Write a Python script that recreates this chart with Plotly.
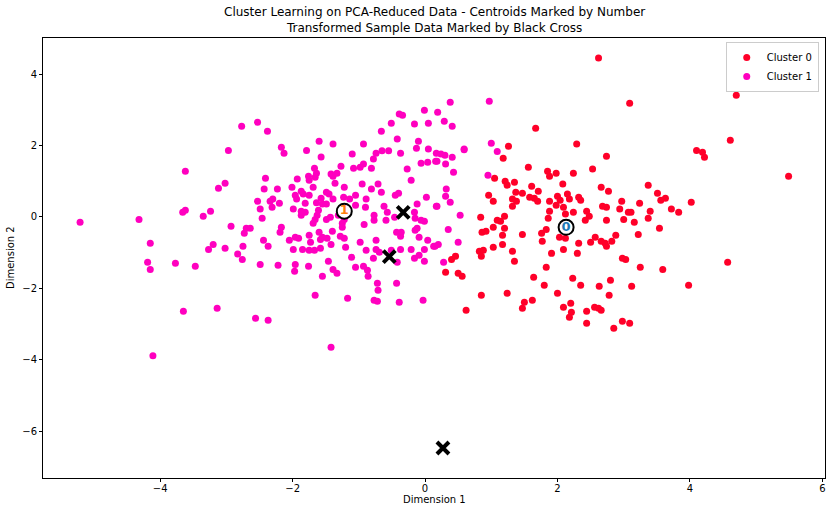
import plotly.graph_objects as go

# ---------------- data ----------------
c0_x = [2.62, 3.09, 1.67, 1.26, 2.29, 4.70, 4.61,
        1.18, 2.74, 1.56, 1.85, 1.98, 1.88, 2.24, 2.53, 1.05, 1.21, 1.35, 1.24, 2.08, 1.61,
        2.66, 2.77, 1.71, 1.37, 1.47, 0.96, 1.58, 1.65, 1.70, 1.32, 1.38, 1.03, 1.32, 1.88,
        2.00, 2.04, 2.15, 2.18, 2.32, 2.35, 1.98, 2.09, 2.24, 1.88, 1.86, 2.12, 2.44, 2.48,
        2.42, 2.68, 2.74, 2.97, 2.94, 3.07, 3.00, 3.16, 2.74, 0.84, 1.20, 1.09, 1.14, 1.03,
        1.20, 0.86, 0.92, 1.47, 1.76, 1.83, 1.17, 1.77, 2.03, 2.12, 2.32, 2.50, 2.57, 2.66,
        2.72, 2.82, 2.88, 2.74, 1.03, 1.17, 1.32, 0.82, 0.88, 1.91, 2.09, 2.30,
        4.10, 4.19, 4.22, 5.49, 3.37, 3.51, 3.56, 3.63, 3.24, 4.02, 3.40, 3.72, 3.83, 3.11,
        3.37, 3.54, 3.22,
        0.40, 0.46, 0.31, 0.50, 0.56, 0.85, 1.35, 2.98, 3.03, 1.83, 1.64, 2.23, 1.80, 2.35,
        2.63, 2.80, 3.12, 2.78, 0.85, 1.24, 2.00, 1.50, 1.62, 1.47, 0.62, 2.09, 2.20, 2.21,
        2.18, 2.44, 2.56, 2.62, 2.66, 2.44, 2.85, 2.98, 3.09,
        3.25, 3.59, 4.57, 3.98]
c0_y = [4.45, 3.18, 2.48, 1.98, 2.04, 3.41, 2.15,
        1.64, 1.70, 1.39, 1.28, 1.22, 1.14, 1.22, 1.34, 1.08, 1.00, 0.97, 0.89, 0.92, 0.86,
        0.83, 0.72, 0.72, 0.69, 0.66, 0.61, 0.55, 0.52, 0.44, 0.50, 0.44, 0.44, 0.30, 0.44,
        0.58, 0.47, 0.64, 0.50, 0.55, 0.47, 0.33, 0.27, 0.13, 0.16, -0.04, 0.08, 0.16, 0.02,
        -0.09, 0.30, 0.27, 0.44, 0.22, 0.13, -0.07, -0.15, -0.09, -0.01, 0.02, -0.09, -0.12, -0.29,
        -0.32, -0.43, -0.40, -0.49, -0.46, -0.35, -0.51, -0.68, -0.57, -0.60, -0.74, -0.71, -0.57, -0.68,
        -0.74, -0.68, -0.51, -0.82, -0.85, -0.77, -0.96, -0.96, -0.93, -1.02, -0.91, -1.02,
        1.86, 1.81, 1.67, 1.14, 0.89, 0.66, 0.47, 0.52, 0.38, 0.41, 0.16, 0.22, 0.13, 0.13,
        -0.04, -0.32, -0.49,
        -1.19, -1.10, -1.55, -1.58, -1.66, -1.10, -1.24, -1.16, -1.19, -1.41, -1.69, -1.72, -1.91, -1.91,
        -1.94, -1.77, -1.94, -2.19, -2.19, -2.14, -2.14, -2.39, -2.33, -2.56, -2.61, -2.53, -2.42, -2.67,
        -2.81, -2.64, -2.53, -2.56, -2.61, -2.98, -3.12, -2.92, -2.98,
        -1.41, -1.47, -1.27, -1.91]

c1_x = [-2.77, -2.97, -2.53, -2.38, -2.17, -1.60, -1.39, -0.93, -0.66, -0.51, -0.39, -0.34, -0.42,
        -0.16, -0.01, 0.05, -0.10, -0.13, 0.05,
        0.19, 0.38, 0.97, 0.29, 0.41, 0.59, 1.00,
        -3.62, -3.02, -3.12, -3.66, -3.62, -3.24, -3.35, -4.32, -5.21, -2.93, -4.15, -3.20, -3.27, -3.02, -2.83,
        -2.13, -1.79, -1.57, -1.10, -0.74, -0.65, -0.55, -0.37, 0.17, 0.04, -0.06, -0.78, -0.93, -0.98,
        -1.08, -0.81, -1.27, -1.33, -1.42, -1.39, -1.67, -1.64, -1.66, -1.76, -1.75, -1.93, -2.41, -2.23,
        -2.43, -2.01, -1.87, -1.75, -1.84, -1.69, -1.36, -1.22, -0.95, -0.71, -0.66, -0.81, -1.05, -1.14,
        -1.23, -1.49, -1.45, -1.57, -1.39, -1.55, -1.64, -1.49, -1.81, -1.96, -1.94, -2.30, -2.34, -2.20,
        -2.53, -2.49, -2.31, -1.99, -1.87, -1.81, -1.87, -1.61, -1.63, -1.66, -1.69, -1.49, -1.43, -1.31,
        -1.22, -1.25, -1.25, -0.90, -0.89, -1.05, -0.77, -0.77, -0.92, -0.62, -0.57, -0.46, -0.45, -0.40,
        -0.21, -0.27, 0.16, -0.12, 0.02, 0.17, -0.16, -0.15, -0.06, -0.01, -0.59, -2.46, -2.17, -2.19,
        -2.70, -2.64, -2.73, -2.44, -2.37, -2.75, -2.05, -1.96, -1.91, -1.75, -1.73, -1.60, -1.58, -1.55,
        -1.48, -1.40, -1.28, -1.22, -1.42, -1.20, -1.58, -1.85, -1.99, -1.75, -1.67, -0.98, -0.89, -0.74,
        -0.74, -0.43, -0.37, -0.36, -0.15, -0.12, -0.09, 0.04, -0.21, -0.51, -0.37, -0.01, 0.13, 0.20,
        0.24, 0.30, 0.41, 0.18, 0.31, 0.59, 1.09, 0.43, 0.95, 0.32, 0.31, 0.38, 0.18, 0.53, 0.35, 0.50, 0.15,
        -2.76, -4.19, -4.15, -3.77, -3.47, -3.65, -3.14, -4.11,
        -2.49, -2.22, -1.96, -1.97, -1.76, -1.46, -1.39, -1.33, -1.55, -1.11, -1.05, -0.93, -0.87, -0.86,
        -0.78, -0.69, -0.09, -0.16, -0.01, -0.42, -0.72, -0.71, -0.43, -1.66, -1.17, -0.77, -0.72, -0.39,
        -0.03, -2.56, -2.37, -1.42,
        0.28]
c1_y = [2.54, 1.86, 2.65, 2.40, 1.95, 2.12, 2.04, 2.04, 2.40, 2.62, 2.88, 2.85, 2.18,
        2.60, 2.99, 2.62, 2.12, 1.92, 1.90,
        2.93, 3.21, 3.24, 2.68, 2.54, 1.90, 2.06,
        1.28, 0.94, 0.80, 0.13, 0.19, 0.16, 0.02, -0.07, -0.15, -0.26, -0.74, -0.77, -0.91, -0.88, -1.04,
        1.78, 1.86, 1.68, 1.76, 1.78, 1.85, 1.85, 1.78, 1.78, 1.53, 1.50, 1.62, 1.48, 1.39,
        1.36, 1.36, 1.42, 1.22, 1.20, 1.14, 1.36, 1.22, 1.11, 1.14, 1.03, 1.06, 1.08, 0.78,
        0.78, 0.83, 0.72, 0.61, 0.64, 0.83, 0.94, 0.83, 0.92, 0.92, 0.69, 0.78, 0.61, 0.50,
        0.55, 0.69, 0.64, 0.52, 0.50, 0.36, 0.40, 0.36, 0.38, 0.61, 0.50, 0.50, 0.44, 0.38,
        0.44, 0.22, 0.27, 0.22, 0.16, 0.13, 0.05, 0.19, 0.05, -0.07, -0.18, -0.07, -0.01, 0.05,
        -0.07, -0.18, -0.29, 0.27, 0.50, 0.33, 0.05, -0.09, -0.21, 0.30, 0.13, -0.01, 0.61, 0.66,
        1.03, 1.34, 1.56, 0.36, 0.55, 0.30, 0.13, -0.04, -0.09, -0.12, -0.09, -0.04, -0.29, -0.43,
        -0.32, -0.32, -0.46, -0.65, -0.82, -0.82, -0.65, -0.57, -0.60, -0.51, -0.71, -0.43, -0.63, -0.57,
        -0.60, -0.40, -0.54, -0.60, -0.77, -0.85, -0.88, -0.91, -0.91, -0.93, -0.93, -0.71, -0.93, -0.65,
        -0.91, -0.43, -0.54, -0.43, -0.37, -0.32, -0.57, -0.65, -0.91, -0.93, -0.91, -0.91, -0.82, -0.77,
        1.76, 1.73, 1.67, 1.56, 1.48, 1.88, 1.83, 1.25, 1.17, 0.78, 0.58, 0.41, 0.30, 0.05, -0.35, -0.71, -0.82,
        -1.19, -1.27, -1.47, -1.30, -1.38, -2.64, -2.56, -3.89,
        -1.33, -1.35, -1.33, -1.52, -1.38, -1.24, -1.47, -1.58, -1.66, -1.13, -1.41, -1.38, -1.49, -1.66,
        -1.16, -0.99, -1.07, -1.16, -1.24, -1.27, -1.86, -2.05, -1.86, -2.19, -2.28, -2.33, -2.36, -2.39,
        -2.33, -2.84, -2.89, -3.65,
        -1.27]

centroid_labels = ["0", "1"]
centroid_x = [2.13, -1.22]
centroid_y = [-0.29, 0.16]

sample_x = [-0.33, -0.54, 0.27]
sample_y = [0.13, -1.11, -6.47]

title_lines = ["Cluster Learning on PCA-Reduced Data - Centroids Marked by Number",
               "Transformed Sample Data Marked by Black Cross"]
x_title = "Dimension 1"
y_title = "Dimension 2"

# ---------------- figure ----------------
FONT = "DejaVu Sans"
RED = "#ff0029"
PINK = "#ff00bf"
NUM_COLORS = ["#1f77b4", "#ff7f0e"]

fig = go.Figure()
fig.add_trace(go.Scatter(x=c0_x, y=c0_y, mode="markers", name="Cluster 0",
                         marker=dict(color=RED, size=7, line=dict(width=0))))
fig.add_trace(go.Scatter(x=c1_x, y=c1_y, mode="markers", name="Cluster 1",
                         marker=dict(color=PINK, size=7, line=dict(width=0))))
fig.add_trace(go.Scatter(x=centroid_x, y=centroid_y, mode="markers", showlegend=False,
                         marker=dict(color="white", size=15, line=dict(color="black", width=2))))
for lab, cx, cy, col in zip(centroid_labels, centroid_x, centroid_y, NUM_COLORS):
    fig.add_trace(go.Scatter(x=[cx], y=[cy], mode="text", text=["<b>" + lab + "</b>"],
                             showlegend=False, textposition="middle center",
                             textfont=dict(color=col, size=13, family=FONT)))
fig.add_trace(go.Scatter(x=sample_x, y=sample_y, mode="markers", showlegend=False,
                         marker=dict(symbol="x-thin", size=12, color="black",
                                     line=dict(color="black", width=4))))

axis_common = dict(showline=True, mirror=True, linecolor="black", linewidth=1,
                   ticks="outside", ticklen=3, tickcolor="black", showgrid=False,
                   zeroline=False, automargin=False,
                   tickfont=dict(family=FONT, size=10, color="black"))

fig.update_layout(
    width=834, height=511,
    margin=dict(l=43, r=9, t=38, b=33, autoexpand=False),
    paper_bgcolor="white", plot_bgcolor="white",
    font=dict(family=FONT, size=10, color="black"),
    xaxis=dict(range=[-5.77, 6.04], tickvals=[-4, -2, 0, 2, 4, 6],
               ticklabelstandoff=-2, **axis_common),
    yaxis=dict(range=[-7.31, 5.01], tickvals=[-6, -4, -2, 0, 2, 4], **axis_common),
    legend=dict(x=0.992, y=0.991, xanchor="right", yanchor="top",
                bgcolor="rgba(255,255,255,0.8)", bordercolor="#cccccc", borderwidth=1,
                font=dict(family=FONT, size=10), tracegroupgap=0),
    showlegend=True,
    annotations=[
        dict(text=title_lines[0] + "<br>" + title_lines[1], x=0.5, y=1,
             xref="paper", yref="paper", xanchor="center", yanchor="bottom",
             yshift=1, showarrow=False, font=dict(family=FONT, size=12, color="black")),
        dict(text=x_title, x=0.5, y=0, xref="paper", yref="paper", xanchor="center",
             yanchor="middle", yshift=-21, showarrow=False, font=dict(family=FONT, size=10)),
        dict(text=y_title, x=0, y=0.5, xref="paper", yref="paper", xanchor="center",
             yanchor="middle", xshift=-33, textangle=-90, showarrow=False,
             font=dict(family=FONT, size=10)),
    ],
)

# remove the default 8px page margin so the figure sits at the window's corner
fig.write_html("out.html", config={"displayModeBar": False},
               post_script="document.body.style.margin='0';document.body.style.overflow='hidden';")
